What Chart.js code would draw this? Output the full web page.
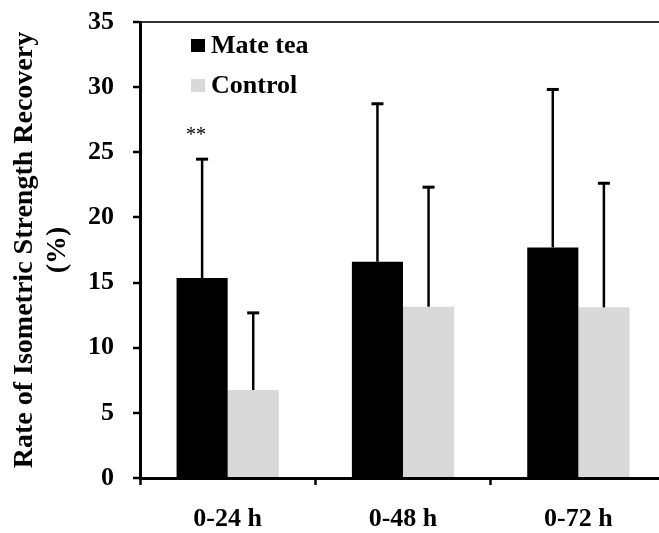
<!DOCTYPE html>
<html>
<head>
<meta charset="utf-8">
<script src="https://cdn.jsdelivr.net/npm/chart.js@4/dist/chart.umd.min.js"></script>
<style>
  html, body { margin: 0; padding: 0; background: #fff; overflow: hidden; }
  #wrap { width: 666px; height: 533px; }
</style>
</head>
<body>
<div id="wrap"><canvas id="c" width="666" height="533"></canvas></div>
<script>
// Recovery rate (%) after exercise, mean and SD per time window
const categories = ['0-24 h', '0-48 h', '0-72 h'];
const mateTea = [15.35, 16.6, 17.7];
const mateTeaSD = [9.2, 12.2, 12.2];
const control = [6.75, 13.15, 13.1];
const controlSD = [6.0, 9.25, 9.6];
const mateTeaMarks = ['**', '', ''];
const yMin = 0, yMax = 35, yStep = 5;

const SERIF = "'Liberation Serif', 'Times New Roman', serif";

// Upward error bars with caps, plus significance marks
const errorBars = {
  id: 'errorBars',
  afterDatasetsDraw(chart) {
    const ctx = chart.ctx;
    const y = chart.scales.y;
    chart.data.datasets.forEach((ds, di) => {
      const meta = chart.getDatasetMeta(di);
      meta.data.forEach((bar, i) => {
        const top = y.getPixelForValue(ds.data[i] + ds.sd[i]);
        ctx.save();
        ctx.strokeStyle = '#000';
        ctx.lineWidth = 2.5;
        ctx.beginPath();
        ctx.moveTo(bar.x, bar.y);
        ctx.lineTo(bar.x, top);
        ctx.stroke();
        ctx.lineWidth = 3;
        ctx.beginPath();
        ctx.moveTo(bar.x - 6, top + 1);
        ctx.lineTo(bar.x + 6, top + 1);
        ctx.stroke();
        const mark = ds.marks ? ds.marks[i] : '';
        if (mark) {
          ctx.fillStyle = '#000';
          ctx.font = "20px " + SERIF;
          ctx.textAlign = 'center';
          ctx.textBaseline = 'middle';
          ctx.fillText(mark, bar.x - 6, top - 22);
        }
        ctx.restore();
      });
    });
  }
};

// Legend boxes inside the plot, top-left
const innerLegend = {
  id: 'innerLegend',
  afterDraw(chart) {
    const ctx = chart.ctx;
    const a = chart.chartArea;
    ctx.save();
    chart.data.datasets.forEach((ds, i) => {
      const cy = a.top + 23 + i * 40;
      ctx.fillStyle = ds.backgroundColor;
      ctx.fillRect(a.left + 51, cy - 6, 14, 13);
      ctx.fillStyle = '#000';
      ctx.font = "bold 26px " + SERIF;
      ctx.textAlign = 'left';
      ctx.textBaseline = 'middle';
      ctx.fillText(ds.label, a.left + 71, cy + 1);
    });
    ctx.restore();
  }
};

new Chart(document.getElementById('c'), {
  type: 'bar',
  data: {
    labels: categories,
    datasets: [
      { label: 'Mate tea', data: mateTea, sd: mateTeaSD, marks: mateTeaMarks,
        backgroundColor: '#000000', borderWidth: 0,
        barPercentage: 1, categoryPercentage: 0.583 },
      { label: 'Control', data: control, sd: controlSD,
        backgroundColor: '#d9d9d9', borderWidth: 0,
        barPercentage: 1, categoryPercentage: 0.583 }
    ]
  },
  options: {
    responsive: false,
    animation: false,
    devicePixelRatio: 1,
    layout: { padding: { top: 22, left: 0, right: 0, bottom: 0 } },
    plugins: { legend: { display: false }, tooltip: { enabled: false } },
    scales: {
      x: {
        offset: true,
        grid: { display: true, offset: true, drawOnChartArea: false,
                tickLength: 7, tickColor: '#000', tickWidth: 2.5 },
        border: { display: true, color: '#000', width: 3 },
        ticks: { font: { family: SERIF, size: 26, weight: 'bold' }, color: '#000', padding: 19 },
        afterFit(s) { s.height = 55; s.paddingLeft = 0; s.paddingRight = 0; }
      },
      y: {
        min: yMin, max: yMax,
        ticks: { stepSize: yStep, font: { family: SERIF, size: 26, weight: 'bold' }, color: '#000', padding: 19 },
        grid: {
          color: c => (c.tick && c.tick.value === yMax) ? '#333' : 'rgba(0,0,0,0)',
          lineWidth: 2, tickColor: '#000', tickLength: 7, tickWidth: 2.5
        },
        border: { display: true, color: '#000', width: 3 },
        title: {
          display: true,
          text: ['Rate of Isometric Strength Recovery', '(%)'],
          font: { family: SERIF, size: 28, weight: 'bold', lineHeight: 1.15 },
          color: '#000',
          padding: { top: 9, bottom: 0 }
        },
        afterFit(s) { s.width = 140; s.paddingTop = 0; s.paddingBottom = 0; }
      }
    }
  },
  plugins: [errorBars, innerLegend]
});
</script>
</body>
</html>
